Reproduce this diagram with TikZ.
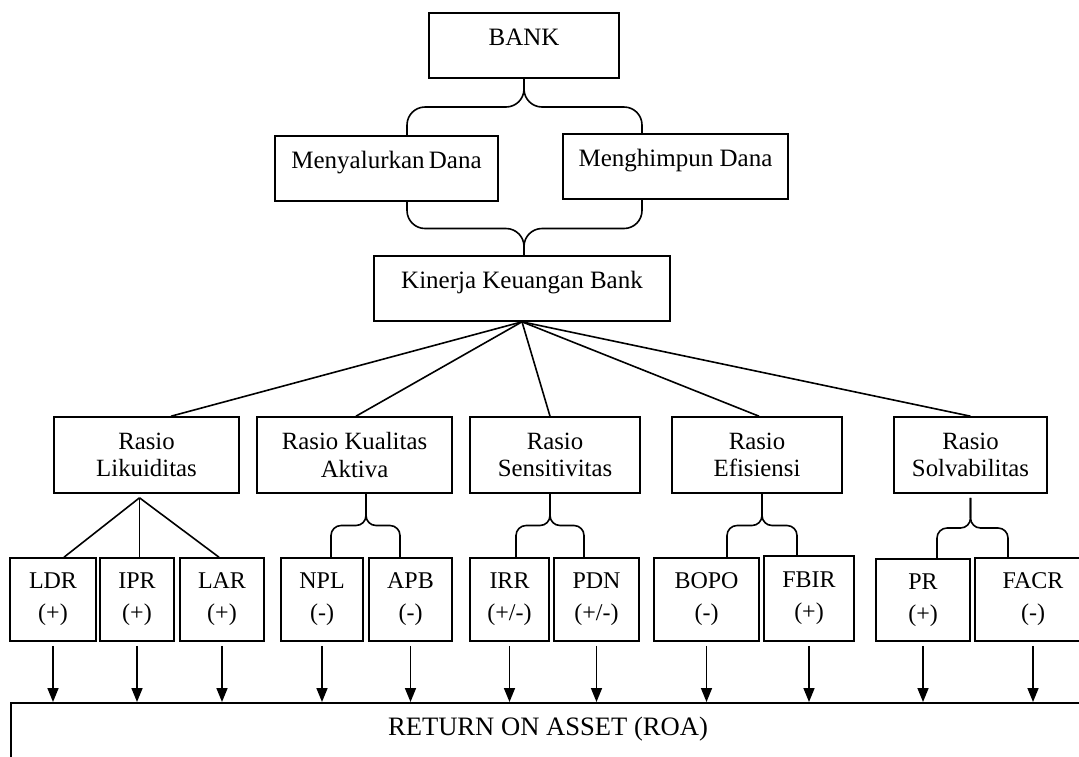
\documentclass[tikz,border=0pt]{standalone}
\usepackage{fontspec}
\setmainfont{Liberation Serif}
\usetikzlibrary{arrows.meta, calc}

% curly join: tip, left end, right end
\newcommand{\brc}[4][5pt]{%
  \path #2 coordinate (bt) #3 coordinate (b1) #4 coordinate (b2);
  \coordinate (bm) at ($(bt)!.5!(b1)$);
  \draw[rounded corners=#1] (b1) |- (bt |- bm) -- (bt);
  \draw[rounded corners=#1] (b2) |- (bt |- bm) -- (bt);
}

\begin{document}
\begin{tikzpicture}[
    x=0.5pt, y=-0.5pt, line width=0.8pt,
    topbox/.style={draw, minimum height=32.5pt, text height=9pt, text depth=9.5pt, inner sep=0pt, font=\fontsize{12.5}{15}\selectfont},
    ratiobox/.style={draw, minimum height=38pt, align=center, inner sep=0pt, font=\fontsize{12.4}{13.6}\selectfont},
    itembox/.style={draw, minimum height=41.5pt, align=center, inner sep=0pt, font=\fontsize{12}{16}\selectfont},
    link/.style={-{Triangle[width=5.5pt,length=7pt]}, shorten <=2pt}
]
\useasboundingbox (0,0) rectangle (1079,756);
\clip (0,0) rectangle (1079,756);

\node[topbox, minimum width=95pt] (bank) at (524,45.5) {BANK};
\node[topbox, minimum width=111.5pt] (salur) at (386.5,168.5) {Menyalurkan\,Dana};
\node[topbox, minimum width=112.5pt] (himpun) at (675.5,166.5) {Menghimpun Dana};
\node[topbox, minimum width=148pt] (kinerja) at (522,288.5) {Kinerja Keuangan Bank};

\node[ratiobox, minimum width=92.5pt] (likuid) at (146.5,455) {Rasio\\Likuiditas};
\node[ratiobox, minimum width=97.5pt] (kualitas) at (354.5,455) {Rasio Kualitas\\Aktiva};
\node[ratiobox, minimum width=85pt] (sensi) at (555,455) {Rasio\\Sensitivitas};
\node[ratiobox, minimum width=84.75pt] (efis) at (757,455) {Rasio\\Efisiensi};
\node[ratiobox, minimum width=76.5pt] (solva) at (970.5,455) {Rasio\\Solvabilitas};

\node[itembox, minimum width=43pt] (ldr) at (53,599.5) {LDR\\(+)};
\node[itembox, minimum width=37pt] (ipr) at (137,599.5) {IPR\\(+)};
\node[itembox, minimum width=42pt] (lar) at (222,599.5) {LAR\\(+)};
\node[itembox, minimum width=41pt] (npl) at (322,599.5) {NPL\\(-)};
\node[itembox, minimum width=41.5pt] (apb) at (410.5,599.5) {APB\\(-)};
\node[itembox, minimum width=39.5pt] (irr) at (509.5,599.5) {IRR\\(+/-)};
\node[itembox, minimum width=42.5pt] (pdn) at (596.5,599.5) {PDN\\(+/-)};
\node[itembox, minimum width=52.5pt] (bopo) at (706.5,599.5) {BOPO\\(-)};
\node[itembox, minimum width=45pt, minimum height=42.5pt] (fbir) at (809,598.5) {FBIR\\(+)};
\node[itembox, minimum width=47pt, minimum height=41pt] (pr) at (923,600) {PR\\(+)};
\node[itembox, minimum width=58pt] (facr) at (1033,599.5) {FACR\\(-)};

\node[draw, anchor=north, minimum width=537pt, inner xsep=0pt, inner ysep=7.5pt, text height=8.8pt, text depth=60pt, font=\fontsize{13.3}{16}\selectfont] (roa) at (548,702) {RETURN ON ASSET (ROA)};

% braces
\brc[9pt]{(bank.south)}{([xshift=10.25pt]salur.north)}{([xshift=-16.75pt]himpun.north)}
\brc[9pt]{([xshift=1pt]kinerja.north)}{([xshift=10.25pt]salur.south)}{([xshift=-16.75pt]himpun.south)}
\brc{([xshift=5.75pt]kualitas.south)}{([xshift=4.5pt]npl.north)}{([xshift=-5.25pt]apb.north)}
\brc{([xshift=-2.5pt]sensi.south)}{([xshift=3.25pt]irr.north)}{([xshift=-6.25pt]pdn.north)}
\brc{([xshift=2.5pt]efis.south)}{([xshift=10.25pt]bopo.north)}{([xshift=-6pt]fbir.north)}
\brc{([yshift=-2pt]solva.south)}{([xshift=7pt]pr.north)}{([xshift=-12.5pt]facr.north)}

% kinerja to the ratios
\foreach \r/\dx in {likuid/12.25pt, kualitas/0.75pt, sensi/-2.5pt, efis/1pt, solva/0pt}
  \draw (kinerja.south) -- ([xshift=\dx]\r.north);

\coordinate (lk) at ([xshift=-3.5pt,yshift=-2pt]likuid.south);
\foreach \n/\dx in {ldr/5.5pt, ipr/1.25pt, lar/-1.5pt}
  \draw (lk) -- ([xshift=\dx]\n.north);

% down to ROA
\foreach \n in {ldr,ipr,lar,npl,apb,irr,pdn,bopo,fbir,pr,facr}
  \draw[link] (\n.south) -- (\n.south |- roa.north);
\end{tikzpicture}
\end{document}
